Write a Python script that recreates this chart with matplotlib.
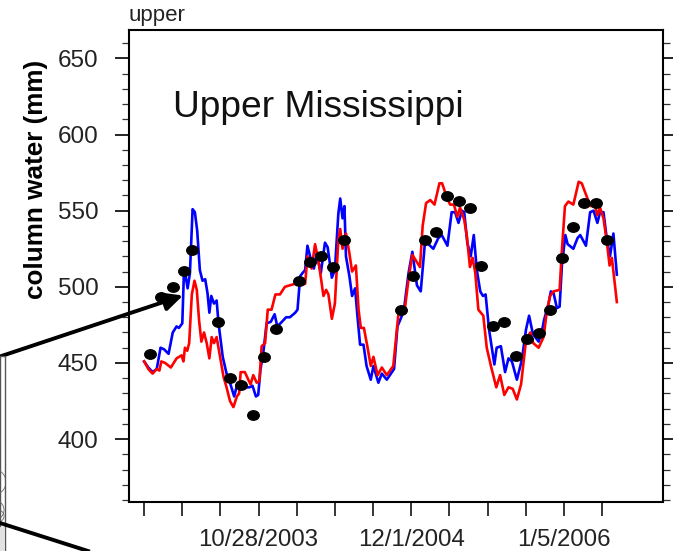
import matplotlib.pyplot as plt
from matplotlib.markers import MarkerStyle
from matplotlib.patches import Circle, Rectangle
from matplotlib.ticker import FixedLocator, MultipleLocator
from matplotlib.transforms import Affine2D, IdentityTransform

plt.rcParams['font.family'] = ['Liberation Sans', 'DejaVu Sans']

W, H = 673, 551

# days since 1/1/2003
blue_x = [0, 11, 22, 33, 43, 52, 64, 75, 85, 91, 100, 104, 108, 114, 120, 127, 133, 139, 146, 153, 160, 166, 171, 176, 183, 190, 195, 206, 216, 225, 236, 243, 253, 264, 276, 284, 293, 299, 305, 312, 321, 332, 342, 349, 361, 372, 382, 396, 402, 409, 415, 422, 428, 437, 445, 452, 463, 474, 481, 492, 500, 509, 514,
          520, 525, 529, 538, 545, 553, 559, 566, 575, 583, 594, 601, 614, 623, 636, 655, 664, 674, 681, 693, 703, 715, 725, 736, 745, 758, 771, 780, 795, 806, 815, 824, 833, 839, 847, 856, 864, 872, 881, 888, 895, 904, 918, 924, 935, 946, 955, 964, 977, 990, 1001, 1009, 1019, 1034, 1042, 1048, 1060, 1066, 1073, 1082, 1089, 1095, 1104, 1110, 1125, 1136, 1143, 1158, 1169, 1178, 1188, 1195, 1204, 1213, 1221, 1230, 1239]
blue_y = [451, 447, 444, 446, 460, 459, 456, 470, 474, 473, 476, 507, 508, 499, 509, 551, 549, 537, 511, 504, 505, 496, 483, 494, 489, 491, 476, 454, 443, 437, 428, 435, 438, 434, 434, 435, 428, 429, 446, 456, 476, 477, 482, 474, 477, 480, 480, 483, 485, 507, 509, 511, 527, 518, 512, 522, 509, 529, 526, 506, 511, 548, 558,
          545, 553, 520, 507, 494, 499, 481, 462, 462, 448, 439, 448, 437, 443, 439, 446, 474, 480, 485, 509, 523, 501, 497, 529, 528, 525, 532, 534, 527, 549, 549, 542, 550, 549, 529, 520, 534, 511, 497, 494, 495, 472, 449, 460, 461, 444, 453, 451, 439, 452, 472, 481, 469, 464, 470, 478, 489, 497, 496, 486, 487, 514, 534, 528, 525, 532, 534, 527, 549, 550, 542, 549, 549, 531, 520, 535, 508]

red_x = [0, 11, 22, 33, 40, 45, 55, 70, 85, 98, 103, 107, 113, 118, 125, 132, 138, 144, 150, 157, 164, 171, 177, 183, 190, 199, 208, 216, 225, 234, 243, 249, 253, 264, 273, 279, 286, 295, 302, 308, 317, 324, 334, 344, 356, 369, 382, 396, 409, 422, 428, 439, 448, 457, 470, 477, 483, 492, 500, 509, 514,
         520, 529, 538, 545, 555, 562, 568, 576, 585, 594, 601, 612, 623, 636, 653, 666, 673, 684, 693, 703, 723, 730, 739, 750, 761, 774, 781, 793, 802, 812, 821, 828, 839, 846, 854, 861, 868, 876, 889, 898, 909, 923, 933, 944, 955, 966, 977, 988, 1001, 1012, 1020, 1034, 1047, 1055, 1064, 1073, 1089, 1095, 1103, 1112, 1125, 1139, 1147, 1162, 1171, 1182, 1188, 1195, 1204, 1213, 1220, 1226, 1239]
red_y = [451, 446, 443, 446, 445, 451, 450, 447, 453, 455, 451, 460, 458, 463, 495, 504, 498, 478, 464, 470, 463, 453, 467, 463, 467, 454, 441, 434, 425, 421, 428, 430, 444, 444, 439, 436, 442, 437, 438, 461, 463, 485, 485, 495, 495, 500, 501, 502, 501, 502, 520, 512, 528, 517, 494, 498, 495, 479, 489, 531, 538,
         525, 535, 522, 510, 514, 485, 473, 473, 461, 448, 454, 442, 447, 442, 448, 481, 483, 487, 505, 521, 513, 540, 555, 557, 554, 568, 568, 559, 554, 554, 546, 552, 544, 533, 513, 519, 509, 485, 481, 460, 448, 434, 442, 429, 434, 433, 426, 436, 465, 470, 463, 460, 467, 483, 494, 497, 498, 524, 553, 556, 554, 569, 568, 558, 553, 553, 547, 552, 545, 529, 514, 519, 490]

dot_x = [15, 45, 75, 104, 125, 194, 225, 254, 285, 314, 345, 405, 435, 464, 494, 524, 673, 704, 735, 764, 793, 824, 854, 884, 914, 943, 974, 1004, 1035, 1064, 1094, 1125, 1154, 1184, 1214]
dot_y = [456, 493, 500, 510.5, 524, 477, 440, 435.5, 416, 453.6, 472.4, 504, 516.6, 520, 513, 530.6, 484.5, 507.4, 530.8, 535.9, 559.7, 556.2, 552, 513.8, 474.4, 477, 454.7, 465.4, 469.8, 484.5, 518.6, 539, 555.3, 555.3, 531]

tick_days = [0, 100, 200, 300, 400, 500, 600, 700, 800, 900, 1000, 1100, 1200]
tick_labels = ['', '', '', '10/28/2003', '', '', '', '12/1/2004', '', '', '', '1/5/2006', '']

fig = plt.figure(figsize=(W / 100, H / 100), dpi=100)
ax = fig.add_axes([128.5 / W, 1 - 501.5 / H, (663 - 128.5) / W, (501.5 - 29.5) / H])

ax.plot(blue_x, blue_y, color='#0000ff', linewidth=1.9, solid_joinstyle='round')
ax.plot(red_x, red_y, color='#ff0000', linewidth=1.9, solid_joinstyle='round')
dot = MarkerStyle('o', transform=Affine2D().scale(1.22, 1.0))
ax.plot(dot_x, dot_y, linestyle='none', marker=dot, markersize=6.8, color='black', zorder=5)

ax.set_xlim(-41, 1360)
ax.set_ylim(359, 669)
ax.set_xticks(tick_days)
ax.set_xticklabels(tick_labels)
ax.yaxis.set_major_locator(FixedLocator([400, 450, 500, 550, 600, 650]))
ax.yaxis.set_minor_locator(MultipleLocator(10))
ax.tick_params(axis='x', length=10, width=1.1, pad=9.5, labelsize=17.3, labelcolor='#222222')
ax.tick_params(axis='y', which='major', length=10, width=1.2, pad=11.7, labelsize=17.5, right=True, labelcolor='#222222')
ax.tick_params(axis='y', which='minor', length=5, width=0.9, color='#333333', right=True)
for side in ax.spines.values():
    side.set_linewidth(1.5)

ax.set_ylabel('column water (mm)', fontsize=18.8, fontweight='bold')
ax.yaxis.set_label_coords((48 - 128.5) / (663 - 128.5), 0.682)

fig.text(128 / W, 1 - 21 / H, 'upper', fontsize=16, color='#222222')
fig.text(173 / W, 1 - 117 / H, 'Upper Mississippi', fontsize=26.7, color='#111111')

# bits of the neighbouring panel, cut off at the left edge
box = Rectangle((0, 0), 5 / W, 1 - 356 / H, transform=fig.transFigure, facecolor='white', edgecolor='#555555', linewidth=1)
fig.add_artist(box)
fig.add_artist(Rectangle((0, 0), 4.5 / W, 1 - 527 / H, transform=fig.transFigure, facecolor='#e2e2e2', edgecolor='none'))
for cx, cy, r in [(-7, 482, 13), (-6, 510, 10), (-2, 516, 6), (-12, 440, 12)]:
    c = Circle((cx, H - cy), r, transform=IdentityTransform(), facecolor='none', edgecolor='#666666', linewidth=0.6)
    fig.add_artist(c)
    c.set_clip_path(box)
fig.add_artist(plt.Line2D([0, 88 / W], [1 - 523 / H, 0], transform=fig.transFigure, color='black', linewidth=2.8))
ax.annotate('', xy=(183 / W, 1 - 295.5 / H), xytext=(0, 1 - 356.5 / H),
            xycoords='figure fraction', textcoords='figure fraction', annotation_clip=False,
            arrowprops=dict(arrowstyle='-|>,head_length=0.7,head_width=0.34', color='black', linewidth=2.8,
                            shrinkA=0, shrinkB=0, mutation_scale=16))

fig.savefig('out.png', dpi=100)
